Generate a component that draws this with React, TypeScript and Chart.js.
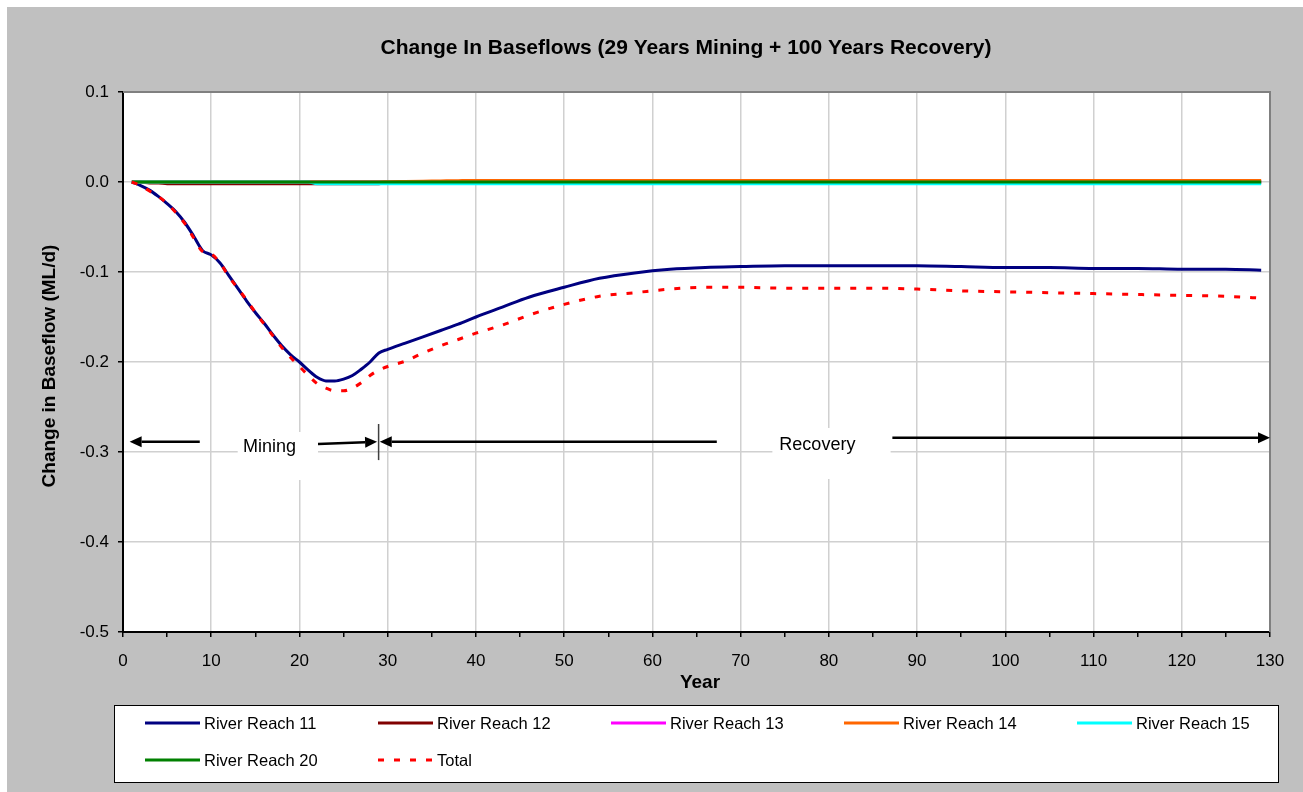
import React, { useEffect, useRef } from "react";
import { Chart, registerables } from "chart.js";

Chart.register(...registerables);

const FONT = "'Liberation Sans', Arial, sans-serif";

const TITLE = "Change In Baseflows (29 Years Mining + 100 Years Recovery)";
const X_TITLE = "Year";
const Y_TITLE = "Change in Baseflow (ML/d)";

const years = [
  1, 2, 3, 4, 5, 6, 7, 8, 9, 10,
  11, 12, 13, 14, 15, 16, 17, 18, 19, 20,
  21, 22, 23, 24, 25, 26, 27, 28, 29, 30,
  32, 34, 36, 38, 40,
  43, 46, 50, 54, 58, 62, 66, 70,
  75, 80, 85, 90, 95, 100, 105, 110, 115, 120, 125, 129,
];

const reach11 = [
  0, -0.004, -0.009, -0.016, -0.024, -0.033, -0.045, -0.06, -0.076, -0.081,
  -0.09, -0.104, -0.118, -0.132, -0.145, -0.157, -0.17, -0.182, -0.192, -0.2,
  -0.209, -0.217, -0.221, -0.221, -0.219, -0.215, -0.208, -0.2, -0.19, -0.186,
  -0.179, -0.172, -0.165, -0.158, -0.15,
  -0.139, -0.128, -0.117, -0.107, -0.101, -0.097, -0.095, -0.094,
  -0.093, -0.093, -0.093, -0.093, -0.094, -0.095, -0.095, -0.096, -0.096, -0.097, -0.097, -0.098,
];

const reach12 = [
  0, 0, -0.001, -0.001, -0.002, -0.002, -0.002, -0.002, -0.002, -0.002,
  -0.002, -0.002, -0.002, -0.002, -0.002, -0.002, -0.002, -0.002, -0.002, -0.002,
  -0.002, -0.002, -0.002, -0.002, -0.002, -0.002, -0.002, -0.002, -0.002, -0.001,
  -0.001, -0.001, -0.001, -0.001, -0.001,
  0, 0, 0, 0, 0, 0, 0, 0,
  0, 0, 0, 0, 0, 0, 0, 0, 0, 0, 0, 0,
];

const reach13 = [
  0, 0, 0, 0, 0, 0, 0, 0, 0, 0,
  0, 0, 0, 0, 0, 0, 0, 0, 0, 0,
  0, 0, 0, 0, 0, 0, 0, 0, 0, 0,
  0, 0, 0, 0, 0,
  0, 0, 0, 0, 0, 0, 0, 0,
  0, 0, 0, 0, 0, 0, 0, 0, 0, 0, 0, 0,
];

const reach14 = [
  0, 0, 0, 0, 0, 0, 0, 0, 0, 0,
  0, 0, 0, 0, 0, 0, 0, 0, 0, 0,
  0, 0, 0, 0, 0, 0, 0, 0, 0, 0.0003,
  0.0006, 0.0009, 0.0012, 0.0015, 0.0017,
  0.0017, 0.0017, 0.0017, 0.0017, 0.0017, 0.0017, 0.0017, 0.0017,
  0.0017, 0.0017, 0.0017, 0.0017, 0.0017, 0.0017, 0.0017, 0.0017, 0.0017, 0.0017, 0.0017, 0.0017,
];

const reach15 = [
  0, 0, 0, 0, 0, 0, 0, 0, 0, 0,
  0, 0, 0, 0, 0, 0, 0, 0, 0, 0,
  0, -0.002, -0.002, -0.002, -0.002, -0.002, -0.002, -0.002, -0.002, -0.002,
  -0.002, -0.002, -0.002, -0.002, -0.002,
  -0.002, -0.002, -0.002, -0.002, -0.002, -0.002, -0.002, -0.002,
  -0.002, -0.002, -0.002, -0.002, -0.002, -0.002, -0.002, -0.002, -0.002, -0.002, -0.002, -0.002,
];

const reach20 = [
  0, 0, 0, 0, 0, 0, 0, 0, 0, 0,
  0, 0, 0, 0, 0, 0, 0, 0, 0, 0,
  0, 0, 0, 0, 0, 0, 0, 0, 0, 0,
  0, 0, 0, 0, 0,
  0, 0, 0, 0, 0, 0, 0, 0,
  0, 0, 0, 0, 0, 0, 0, 0, 0, 0, 0, 0,
];

const total = [
  0, -0.004, -0.01, -0.016, -0.024, -0.034, -0.046, -0.062, -0.077, -0.08,
  -0.09, -0.105, -0.118, -0.131, -0.145, -0.158, -0.171, -0.184, -0.195, -0.205,
  -0.215, -0.224, -0.229, -0.232, -0.232, -0.229, -0.223, -0.215, -0.209, -0.205,
  -0.199, -0.19, -0.182, -0.175, -0.168,
  -0.159, -0.148, -0.136, -0.127, -0.123, -0.119, -0.117, -0.117,
  -0.118, -0.118, -0.118, -0.119, -0.121, -0.122, -0.123, -0.124, -0.125, -0.126, -0.127, -0.129,
];

const seriesNames = [
  "River Reach 11",
  "River Reach 12",
  "River Reach 13",
  "River Reach 14",
  "River Reach 15",
  "River Reach 20",
  "Total",
];
const seriesValues = [reach11, reach12, reach13, reach14, reach15, reach20, total];
const seriesColors = ["#000080", "#800000", "#FF00FF", "#FF6600", "#00FFFF", "#008000", "#FF0000"];

// annotation geometry in data units (year, ML/d)
const arrows = [
  { from: [8.7, -0.2886], to: [0.75, -0.2886] },
  { from: [22.1, -0.2911], to: [28.8, -0.2886] },
  { from: [67.3, -0.2886], to: [29.1, -0.2886] },
  { from: [87.2, -0.2841], to: [130, -0.2841] },
];
const textBoxes = [
  { text: "Mining", x: 16.6, y: -0.2944, box: [13.0, 22.1, -0.2778, -0.3311] },
  { text: "Recovery", x: 78.7, y: -0.2922, box: [73.6, 87.0, -0.2733, -0.33] },
];
const marker = { x: 28.97, y1: -0.2689, y2: -0.309 };

const W = 1303;
const H = 792;

function drawArrow(ctx: CanvasRenderingContext2D, x1: number, y1: number, x2: number, y2: number) {
  const ang = Math.atan2(y2 - y1, x2 - x1);
  const len = 12;
  const hw = 5.5;
  const bx = x2 - Math.cos(ang) * len;
  const by = y2 - Math.sin(ang) * len;
  ctx.beginPath();
  ctx.moveTo(x1, y1);
  ctx.lineTo(bx, by);
  ctx.stroke();
  ctx.beginPath();
  ctx.moveTo(x2, y2);
  ctx.lineTo(bx + Math.sin(ang) * hw, by - Math.cos(ang) * hw);
  ctx.lineTo(bx - Math.sin(ang) * hw, by + Math.cos(ang) * hw);
  ctx.closePath();
  ctx.fill();
}

const decorPlugin = {
  id: "decor",
  beforeDraw(chart: any) {
    const { ctx, chartArea: a } = chart;
    ctx.save();
    ctx.fillStyle = "#ffffff";
    ctx.fillRect(0, 0, W, H);
    ctx.fillStyle = "#c0c0c0";
    ctx.fillRect(7, 7, W - 7, H - 7);
    ctx.fillStyle = "#ffffff";
    ctx.fillRect(a.left, a.top, a.right - a.left, a.bottom - a.top);
    ctx.restore();
  },
  afterDraw(chart: any) {
    const { ctx, chartArea: a } = chart;
    const xs = chart.scales.x;
    const ys = chart.scales.y;
    const px = (v: number) => xs.getPixelForValue(v);
    const py = (v: number) => ys.getPixelForValue(v);
    ctx.save();

    // plot border top / right
    ctx.strokeStyle = "#808080";
    ctx.lineWidth = 2;
    ctx.beginPath();
    ctx.moveTo(a.left, a.top);
    ctx.lineTo(a.right, a.top);
    ctx.lineTo(a.right, a.bottom);
    ctx.stroke();

    // annotation text boxes
    textBoxes.forEach((t) => {
      const [x0, x1, y0, y1] = t.box;
      ctx.fillStyle = "#ffffff";
      ctx.fillRect(px(x0), py(y0), px(x1) - px(x0), py(y1) - py(y0));
      ctx.fillStyle = "#000000";
      ctx.font = `18px ${FONT}`;
      ctx.textAlign = "center";
      ctx.textBaseline = "middle";
      ctx.fillText(t.text, px(t.x), py(t.y));
    });

    // arrows
    ctx.strokeStyle = "#000000";
    ctx.fillStyle = "#000000";
    ctx.lineWidth = 2.5;
    arrows.forEach((r) => drawArrow(ctx, px(r.from[0]), py(r.from[1]), px(r.to[0]), py(r.to[1])));

    // marker
    ctx.strokeStyle = "#404040";
    ctx.lineWidth = 1.5;
    ctx.beginPath();
    ctx.moveTo(px(marker.x), py(marker.y1));
    ctx.lineTo(px(marker.x), py(marker.y2));
    ctx.stroke();

    // titles
    ctx.fillStyle = "#000000";
    ctx.textAlign = "center";
    ctx.textBaseline = "middle";
    ctx.font = `bold 21px ${FONT}`;
    ctx.fillText(TITLE, 686, 48);
    ctx.font = `bold 19px ${FONT}`;
    ctx.fillText(X_TITLE, 700, 683);
    ctx.save();
    ctx.translate(50, 366);
    ctx.rotate(-Math.PI / 2);
    ctx.fillText(Y_TITLE, 0, 0);
    ctx.restore();

    // legend
    const lx = 114, ly = 705, lw = 1164, lh = 77;
    ctx.fillStyle = "#ffffff";
    ctx.fillRect(lx, ly, lw, lh);
    ctx.strokeStyle = "#000000";
    ctx.lineWidth = 1;
    ctx.strokeRect(lx + 0.5, ly + 0.5, lw, lh);
    ctx.font = `16.5px ${FONT}`;
    ctx.textAlign = "left";
    ctx.textBaseline = "middle";
    chart.data.datasets.forEach((ds: any, i: number) => {
      const col = i % 5;
      const row = Math.floor(i / 5);
      const x0 = 145 + col * 233;
      const y0 = 723 + row * 37;
      ctx.strokeStyle = ds.borderColor;
      ctx.lineWidth = 3;
      ctx.setLineDash(ds.borderDash || []);
      ctx.beginPath();
      ctx.moveTo(x0, y0);
      ctx.lineTo(x0 + 55, y0);
      ctx.stroke();
      ctx.setLineDash([]);
      ctx.fillStyle = "#000000";
      ctx.fillText(ds.label, x0 + 59, y0 + 1);
    });
    ctx.restore();
  },
};

export default function App() {
  const ref = useRef<HTMLCanvasElement | null>(null);
  useEffect(() => {
    if (!ref.current) return;
    const datasets = seriesNames.map((name, i) => ({
      label: name,
      data: years.map((y, j) => ({ x: y, y: seriesValues[i][j] })),
      borderColor: seriesColors[i],
      backgroundColor: seriesColors[i],
      borderWidth: 3,
      borderDash: name === "Total" ? [6, 10] : [],
      pointRadius: 0,
      cubicInterpolationMode: "monotone" as const,
      fill: false,
      order: seriesNames.length - 1 - i,
    }));
    const chart = new Chart(ref.current, {
      type: "line",
      data: { datasets },
      plugins: [decorPlugin],
      options: {
        animation: false,
        responsive: false,
        devicePixelRatio: 1,
        layout: { padding: { left: 0, top: 92, right: 33, bottom: 0 } },
        plugins: {
          legend: { display: false },
          title: { display: false },
          tooltip: { enabled: false },
        },
        scales: {
          x: {
            type: "linear",
            min: 0,
            max: 130,
            afterFit: (s: any) => {
              s.height = 160;
            },
            ticks: {
              stepSize: 5,
              autoSkip: false,
              maxRotation: 0,
              padding: 14,
              color: "#000000",
              font: { family: FONT, size: 17 },
              callback: (v: any) => (Number(v) % 10 === 0 ? String(v) : ""),
            },
            grid: {
              color: (c: any) => (c.tick && c.tick.value % 10 === 0 ? "#d0d0d0" : "rgba(0,0,0,0)"),
              lineWidth: 1.5,
              tickColor: "#000000",
              tickLength: 5,
              tickWidth: 1.5,
            },
            border: { color: "#000000", width: 2 },
          },
          y: {
            min: -0.5,
            max: 0.1,
            afterFit: (s: any) => {
              s.width = 123;
            },
            ticks: {
              stepSize: 0.1,
              padding: 9,
              color: "#000000",
              font: { family: FONT, size: 17 },
              callback: (v: any) => {
                const n = Number(v);
                return (Math.abs(n) < 1e-9 ? 0 : n).toFixed(1);
              },
            },
            grid: {
              color: "#d0d0d0",
              lineWidth: 1.5,
              tickColor: "#000000",
              tickLength: 5,
              tickWidth: 1.5,
            },
            border: { color: "#000000", width: 2 },
          },
        },
      },
    });
    return () => chart.destroy();
  }, []);
  return (
    <div style={{ position: "fixed", left: 0, top: 0, width: W, height: H, overflow: "hidden" }}>
      <canvas ref={ref} width={W} height={H} style={{ width: W, height: H, display: "block" }} />
    </div>
  );
}
